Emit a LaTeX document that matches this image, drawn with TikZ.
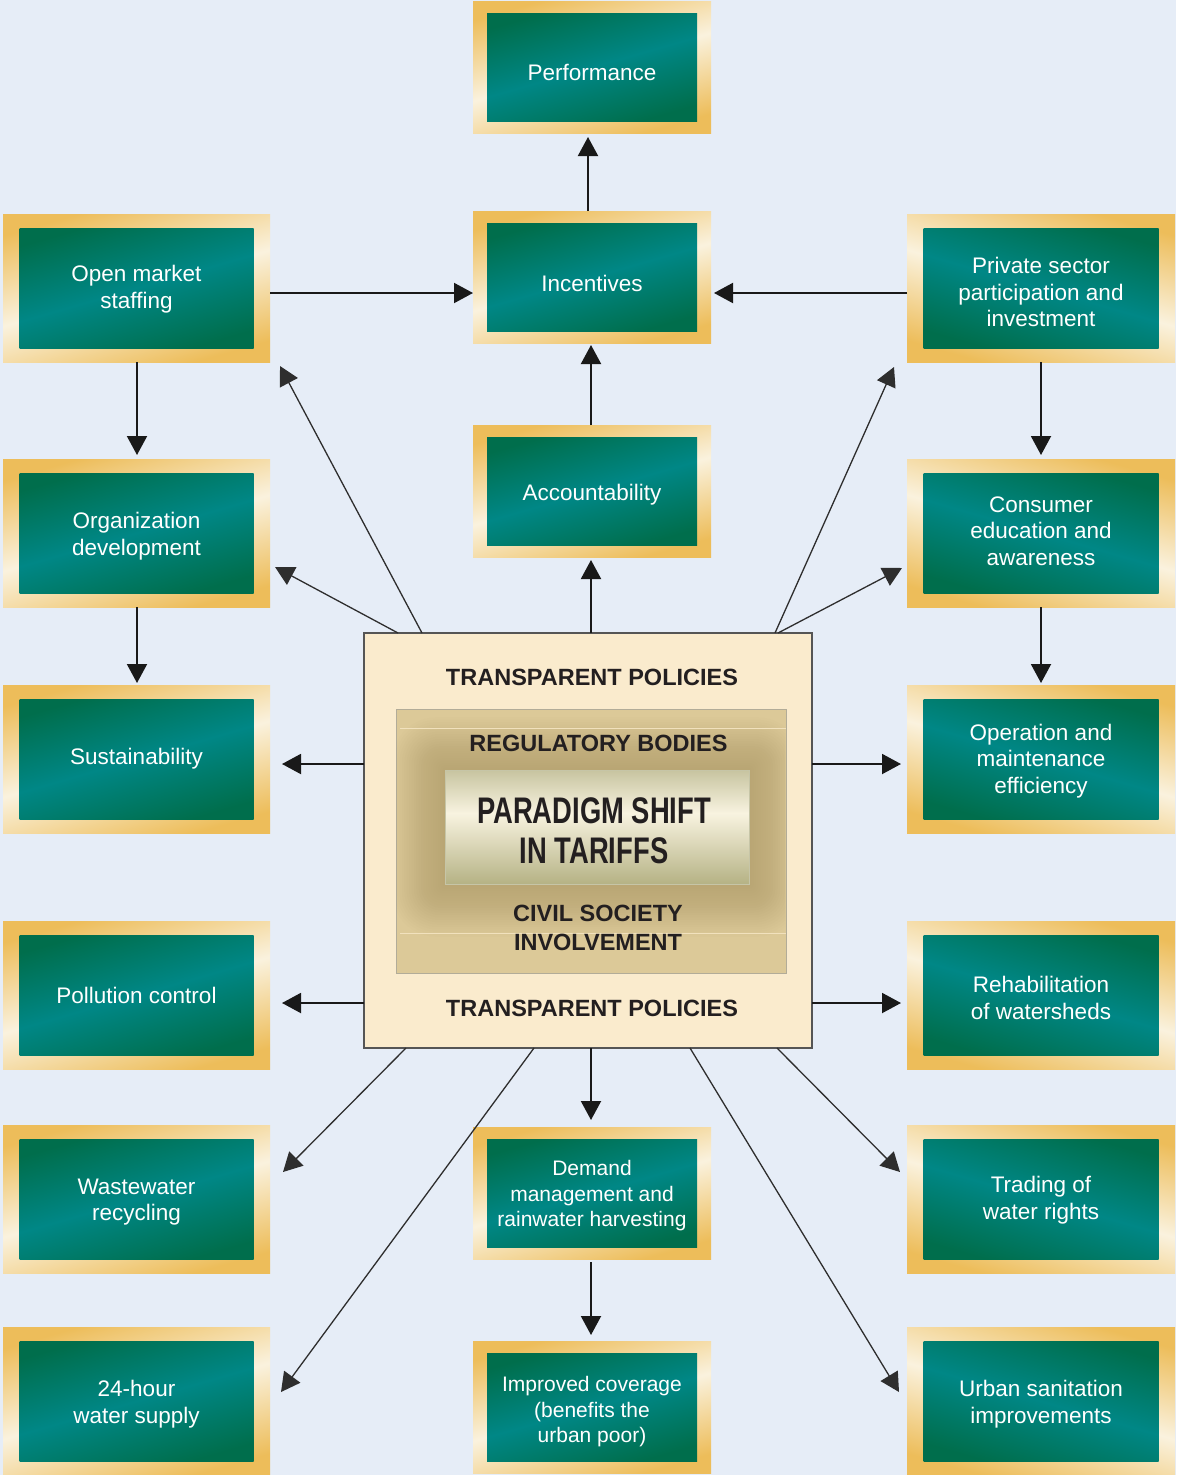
\documentclass[tikz,border=0pt]{standalone}
\usepackage{fontspec}
\setmainfont{Liberation Sans}
\usepackage{graphicx}
\usetikzlibrary{arrows.meta,calc}
\definecolor{bg}{RGB}{230,237,247}
\definecolor{gold}{RGB}{237,189,90}
\definecolor{cream}{RGB}{250,242,222}
\definecolor{tdark}{RGB}{0,110,76}
\definecolor{tteal}{RGB}{0,135,134}
\definecolor{cfill}{RGB}{250,235,205}
\definecolor{cline}{RGB}{85,85,85}
\definecolor{ifill}{RGB}{220,201,152}
\definecolor{iline}{RGB}{178,172,152}
\definecolor{olvA}{RGB}{160,158,108}
\definecolor{olvB}{RGB}{150,148,90}
\definecolor{olvC}{RGB}{248,243,224}
\definecolor{halo}{RGB}{110,90,40}
\definecolor{ink}{RGB}{35,31,32}
\pgfdeclareverticalshading{olive}{100bp}{color(0bp)=(olvB); color(22bp)=(olvB!75!olvC); color(56bp)=(olvC); color(80bp)=(olvA!70!olvC); color(100bp)=(olvA)}
\tikzset{
  frame/.style={shade, shading=axis, top color=gold, bottom color=gold, middle color=cream, inner sep=0pt, outer sep=0pt},
  tealbox/.style={shade, shading=axis, top color=tdark, bottom color=tdark, middle color=tteal, inner sep=0pt, outer sep=0pt},
  boxtext/.style={text=white, align=center, inner sep=0pt, font=\fontsize{22.5}{26.5}\selectfont},
  smalltext/.style={font=\fontsize{21}{25.5}\selectfont},
  arr/.style={line width=2pt, draw=black!90, -{Triangle[length=19pt,width=20pt]}},
  darr/.style={line width=1.3pt, draw=black!82, -{Triangle[length=19pt,width=20pt]}},
  ctrtext/.style={text=ink, align=center, inner sep=0pt, font=\fontsize{23.5}{29}\bfseries\selectfont},
}
% #1 text options, #2 name, #3 x1, #4 y1, #5 x2, #6 y2, #7 ix, #8 iy, #9 text
\newcommand\lbox[9][]{%
  \node[frame, shading angle=16, minimum width={#5-#3}, minimum height={#6-#4}] (#2) at ({(#3+#5)/2},{(#4+#6)/2}) {};
  \node[tealbox, shading angle=16, minimum width={#5-#3-2*#7}, minimum height={#6-#4-2*#8}] (#2-in) at (#2.center) {};
  \node[boxtext, #1] (#2-t) at (#2.center) {#9};
}
\newcommand\rbox[9][]{%
  \node[frame, shading angle=-16, minimum width={#5-#3}, minimum height={#6-#4}] (#2) at ({(#3+#5)/2},{(#4+#6)/2}) {};
  \node[tealbox, shading angle=-16, minimum width={#5-#3-2*#7}, minimum height={#6-#4-2*#8}] (#2-in) at (#2.center) {};
  \node[boxtext, #1] (#2-t) at (#2.center) {#9};
}
\begin{document}
\begin{tikzpicture}[x=1pt,y=-1pt]
\useasboundingbox (0,0) rectangle (1176,1475);
\fill[bg] (0,0) rectangle (1176,1475);

% left column
\lbox[yshift=-1pt]{om}{3}{214}{270}{362}{16.5}{14}{Open market\\staffing}
\lbox[yshift=-3pt]{od}{3}{459}{270}{607}{16.5}{14}{Organization\\development}
\lbox{sus}{3}{685}{270}{833}{16.5}{14}{Sustainability}
\lbox{pol}{3}{921}{270}{1069}{16.5}{14}{Pollution control}
\lbox[yshift=-3pt]{ww}{3}{1125}{270}{1273}{16.5}{14}{Wastewater\\recycling}
\lbox[yshift=-3pt]{hr}{3}{1327}{270}{1475}{16.5}{14}{24-hour\\water supply}
% right column
\rbox[yshift=-4pt]{ps}{907}{214}{1175}{362}{16.5}{14}{Private sector\\participation and\\investment}
\rbox[yshift=2pt]{ce}{907}{459}{1175}{607}{16.5}{14}{Consumer\\education and\\awareness}
\rbox[yshift=-2pt]{omf}{907}{685}{1175}{833}{16.5}{14}{Operation and\\maintenance\\efficiency}
\rbox[yshift=-3pt]{reh}{907}{921}{1175}{1069}{16.5}{14}{Rehabilitation\\of watersheds}
\rbox[yshift=-1pt]{trd}{907}{1125}{1175}{1273}{16.5}{14}{Trading of\\water rights}
\rbox[yshift=-3pt]{urb}{907}{1327}{1175}{1475}{16.5}{14}{Urban sanitation\\improvements}
% middle column
\lbox[yshift=-5pt]{perf}{473}{1}{711}{133}{14}{12}{Performance}
\lbox[yshift=-6pt]{inc}{473}{211}{711}{343}{14}{12}{Incentives}
\lbox[yshift=-4pt]{acc}{473}{425}{711}{557}{14}{12}{Accountability}
\lbox[smalltext, yshift=-3pt]{dem}{473}{1127}{711}{1259}{14}{12}{Demand\\management and\\rainwater harvesting}
\lbox[smalltext, yshift=-5pt]{imp}{473}{1341}{711}{1473}{14}{12}{Improved coverage\\(benefits the\\urban poor)}

% centre
\node[fill=cfill, draw=cline, line width=1.5pt, inner sep=0pt, outer sep=0pt, minimum width=448, minimum height=415] (ctr) at (588,840.5) {};
\node[fill=ifill, draw=iline, line width=1pt, inner sep=0pt, outer sep=0pt, minimum width=390, minimum height=264] (ibox) at (591,841) {};
\begin{scope}
  \clip (396.5,709.5) rectangle (785.5,972.5);
  \foreach \i in {1,...,22}
    \fill[halo, opacity=0.012, rounded corners={2*\i}] ({445-2.4*\i},{770-2.4*\i}) rectangle ({749+2.4*\i},{884+2.4*\i});
\end{scope}
\draw[cfill!70!ifill, line width=1pt] (400,728) -- (786,728);
\draw[cfill!70!ifill, line width=1pt] (400,933) -- (786,933);
\node[shading=olive, draw=olvA!60!white, line width=0.6pt, inner sep=0pt, outer sep=0pt, minimum width=304, minimum height=114] (shift) at (597,827) {};
\node[ctrtext, font=\fontsize{37}{40}\bfseries\selectfont] (pst) at (594,831) {\scalebox{0.74}[1]{PARADIGM SHIFT}\\\scalebox{0.74}[1]{IN TARIFFS}};
\node[ctrtext] (tp1) at (592,677) {TRANSPARENT POLICIES};
\node[ctrtext] (tp2) at (592,1008) {TRANSPARENT POLICIES};
\node[ctrtext] (reg) at (598.5,743) {REGULATORY BODIES};
\node[ctrtext] (civ) at (598,927.5) {CIVIL SOCIETY\\INVOLVEMENT};

% straight connectors
\draw[arr] ($(inc.north)+(-4,0)$) -- ($(perf.south)+(-4,4)$);
\draw[arr] ($(acc.north)+(-1,0)$) -- ($(inc.south)+(-1,2)$);
\draw[arr] ($(ctr.north)+(3,0)$) -- ($(acc.south)+(-1,3)$);
\draw[arr] ($(om.east)+(0,5)$) -- ($(inc.west)+(0,16)$);
\draw[arr] ($(ps.west)+(0,5)$) -- ($(inc.east)+(3,16)$);
\draw[arr] ($(om.south)+(0.5,0)$) -- ($(od.north)+(0.5,-4)$);
\draw[arr] ($(od.south)+(0.5,0)$) -- ($(sus.north)+(0.5,-2)$);
\draw[arr] (ps.south) -- ($(ce.north)+(0,-4)$);
\draw[arr] (ce.south) -- ($(omf.north)+(0,-2)$);
\draw[arr] ($(ctr.north west)+(0,131)$) -- ($(sus.east)+(12,5)$);
\draw[arr] ($(ctr.north east)+(0,131)$) -- ($(omf.west)+(-6,5)$);
\draw[arr] ($(ctr.south west)+(0,-45)$) -- ($(pol.east)+(12,8)$);
\draw[arr] ($(ctr.south east)+(0,-45)$) -- ($(reh.west)+(-6,8)$);
\draw[arr] ($(ctr.south)+(3,0)$) -- ($(dem.north)+(-1,-7)$);
\draw[arr] ($(dem.south)+(-1,3)$) -- ($(imp.north)+(-1,-6)$);
% diagonal connectors
\draw[darr] ($(ctr.north west)+(58,0)$) -- ($(om.south east)+(10,4)$);
\draw[darr] ($(ctr.north west)+(34,0)$) -- ($(od.east)+(5,34)$);
\draw[darr] ($(ctr.north east)+(-37,0)$) -- ($(ps.south west)+(-13,5)$);
\draw[darr] ($(ctr.north east)+(-34,0)$) -- ($(ce.west)+(-5,35)$);
\draw[darr] ($(ctr.south west)+(42,0)$) -- ($(ww.north east)+(13,47)$);
\draw[darr] ($(ctr.south west)+(170,0)$) -- ($(hr.east)+(11,-9)$);
\draw[darr] ($(ctr.south east)+(-35,0)$) -- ($(trd.north west)+(-7,47)$);
\draw[darr] ($(ctr.south east)+(-122,0)$) -- ($(urb.west)+(-8,-9)$);
\end{tikzpicture}
\end{document}
